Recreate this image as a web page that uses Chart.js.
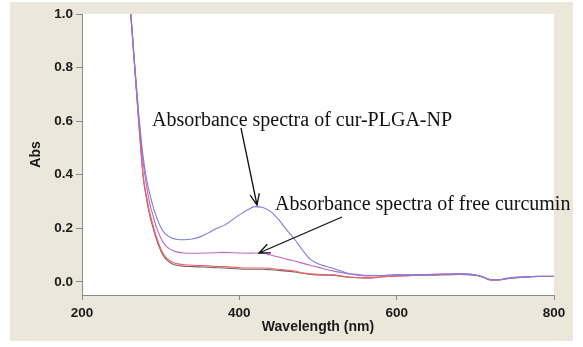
<!DOCTYPE html>
<html>
<head>
<meta charset="utf-8">
<script src="https://cdn.jsdelivr.net/npm/chart.js@4.4.1/dist/chart.umd.min.js"></script>
<style>
  html, body { margin: 0; padding: 0; background: #ffffff; }
  canvas { display: block; }
</style>
</head>
<body>
<canvas id="absChart" width="583" height="347"></canvas>
<script>
// wavelength (nm) sampled along the spectra
const wavelengths = [260, 263, 266, 269, 272, 275, 278, 282, 286, 290, 295, 300, 305, 310, 315, 320, 330, 340, 350, 360, 370, 380, 400, 410, 420, 430, 440, 450, 460, 470, 480, 490, 500, 510, 520, 540, 560, 580, 600, 620, 640, 660, 680, 700, 710, 720, 730, 740, 760, 780, 800];

const plgaNP = [1.08, 0.97, 0.85, 0.74, 0.63, 0.54, 0.46, 0.385, 0.33, 0.285, 0.24, 0.205, 0.182, 0.17, 0.163, 0.159, 0.157, 0.16, 0.168, 0.182, 0.198, 0.21, 0.25, 0.268, 0.281, 0.278, 0.262, 0.232, 0.195, 0.16, 0.12, 0.085, 0.068, 0.058, 0.05, 0.03, 0.022, 0.024, 0.026, 0.026, 0.027, 0.029, 0.03, 0.026, 0.018, 0.008, 0.008, 0.013, 0.018, 0.021, 0.021];

const freeCurcumin = [1.08, 0.96, 0.84, 0.73, 0.62, 0.52, 0.44, 0.36, 0.295, 0.25, 0.2, 0.165, 0.14, 0.126, 0.117, 0.112, 0.108, 0.107, 0.107, 0.108, 0.109, 0.11, 0.108, 0.107, 0.108, 0.107, 0.1, 0.093, 0.085, 0.078, 0.07, 0.062, 0.055, 0.047, 0.04, 0.03, 0.025, 0.024, 0.026, 0.026, 0.027, 0.029, 0.03, 0.026, 0.018, 0.008, 0.008, 0.013, 0.018, 0.021, 0.021];

const redSeries = [1.07, 0.96, 0.84, 0.72, 0.6, 0.49, 0.39, 0.32, 0.26, 0.215, 0.165, 0.125, 0.097, 0.082, 0.073, 0.068, 0.064, 0.062, 0.061, 0.06, 0.058, 0.057, 0.053, 0.052, 0.052, 0.052, 0.05, 0.047, 0.044, 0.04, 0.034, 0.03, 0.028, 0.027, 0.026, 0.018, 0.015, 0.018, 0.022, 0.024, 0.025, 0.027, 0.028, 0.025, 0.017, 0.007, 0.007, 0.012, 0.017, 0.02, 0.02];

const blackSeries = [1.07, 0.96, 0.84, 0.72, 0.6, 0.485, 0.385, 0.31, 0.25, 0.205, 0.155, 0.117, 0.09, 0.076, 0.067, 0.062, 0.058, 0.057, 0.056, 0.055, 0.053, 0.052, 0.048, 0.047, 0.047, 0.047, 0.045, 0.043, 0.04, 0.037, 0.032, 0.028, 0.026, 0.025, 0.024, 0.017, 0.015, 0.018, 0.022, 0.024, 0.025, 0.027, 0.028, 0.025, 0.017, 0.007, 0.007, 0.012, 0.017, 0.02, 0.02];

const yTicks = [0, 0.2, 0.4, 0.6, 0.8, 1.0];
const xTicks = [200, 400, 600, 800];

const toPoints = (values) => values.map((v, i) => ({ x: wavelengths[i], y: v }));

const line = (data, color) => ({
  data: toPoints(data),
  borderColor: color,
  borderWidth: 1.1,
  pointRadius: 0,
  cubicInterpolationMode: "monotone",
  fill: false,
});

const drawArrow = (ctx, x1, y1, x2, y2) => {
  const angle = Math.atan2(y2 - y1, x2 - x1);
  const head = 12;
  ctx.beginPath();
  ctx.moveTo(x1, y1);
  ctx.lineTo(x2, y2);
  ctx.moveTo(x2 - head * Math.cos(angle - 0.4), y2 - head * Math.sin(angle - 0.4));
  ctx.lineTo(x2, y2);
  ctx.lineTo(x2 - head * Math.cos(angle + 0.4), y2 - head * Math.sin(angle + 0.4));
  ctx.stroke();
};

const backdrop = {
  id: "backdrop",
  beforeDraw(chart) {
    const { ctx, chartArea } = chart;
    ctx.save();
    ctx.fillStyle = "#ffffff";
    ctx.fillRect(0, 0, chart.width, chart.height);
    ctx.fillStyle = "#ebe7da";
    ctx.fillRect(10, 2, 563, 339);
    ctx.fillStyle = "#ffffff";
    ctx.fillRect(chartArea.left, chartArea.top, chartArea.right - chartArea.left, chartArea.bottom - chartArea.top);
    ctx.restore();
  },
  afterDraw(chart) {
    const { ctx } = chart;
    ctx.save();
    ctx.fillStyle = "#111111";
    ctx.font = "20px 'Liberation Serif', 'Times New Roman', serif";
    ctx.textBaseline = "alphabetic";
    ctx.fillText("Absorbance spectra of cur-PLGA-NP", 152, 126);
    ctx.fillText("Absorbance spectra of free curcumin", 275, 210);
    ctx.strokeStyle = "#111111";
    ctx.lineWidth = 1.3;
    drawArrow(ctx, 241, 128, 257, 205);
    drawArrow(ctx, 342, 217, 259, 253);
    ctx.restore();
  },
};

new Chart(document.getElementById("absChart"), {
  type: "line",
  data: {
    datasets: [
      line(plgaNP, "#7b7fdc"),
      line(freeCurcumin, "#c066c6"),
      line(redSeries, "#ff5c5c"),
      line(blackSeries, "#6a6a6a"),
    ],
  },
  options: {
    responsive: false,
    animation: false,
    devicePixelRatio: 1,
    layout: { padding: { left: 0, top: 14, right: 29, bottom: 0 } },
    plugins: { legend: { display: false }, tooltip: { enabled: false } },
    scales: {
      x: {
        type: "linear",
        min: 200,
        max: 800,
        afterFit: (scale) => { scale.height = 52; },
        afterBuildTicks: (scale) => { scale.ticks = xTicks.map((v) => ({ value: v })); },
        grid: { drawOnChartArea: false, tickLength: 5, color: "#8a8a8a" },
        border: { color: "#8a8a8a", width: 1 },
        ticks: {
          color: "#1a1a1a",
          padding: 5,
          maxRotation: 0,
          font: { family: "'Liberation Sans', Arial, sans-serif", size: 13.5, weight: "bold" },
        },
        title: {
          display: true,
          text: "Wavelength (nm)",
          color: "#1a1a1a",
          padding: { top: 0, bottom: 11 },
          font: { family: "'Liberation Sans', Arial, sans-serif", size: 14, weight: "bold" },
        },
      },
      y: {
        min: -0.049,
        max: 1.0,
        afterFit: (scale) => { scale.width = 82; },
        afterBuildTicks: (scale) => { scale.ticks = yTicks.map((v) => ({ value: v })); },
        grid: { drawOnChartArea: false, tickLength: 6, color: "#8a8a8a" },
        border: { color: "#8a8a8a", width: 1 },
        ticks: {
          color: "#1a1a1a",
          padding: 3,
          callback: (v) => Number(v).toFixed(1),
          font: { family: "'Liberation Sans', Arial, sans-serif", size: 13.5, weight: "bold" },
        },
        title: {
          display: true,
          text: "Abs",
          color: "#1a1a1a",
          padding: { top: 28, bottom: 0 },
          font: { family: "'Liberation Sans', Arial, sans-serif", size: 14, weight: "bold" },
        },
      },
    },
  },
  plugins: [backdrop],
});
</script>
</body>
</html>
